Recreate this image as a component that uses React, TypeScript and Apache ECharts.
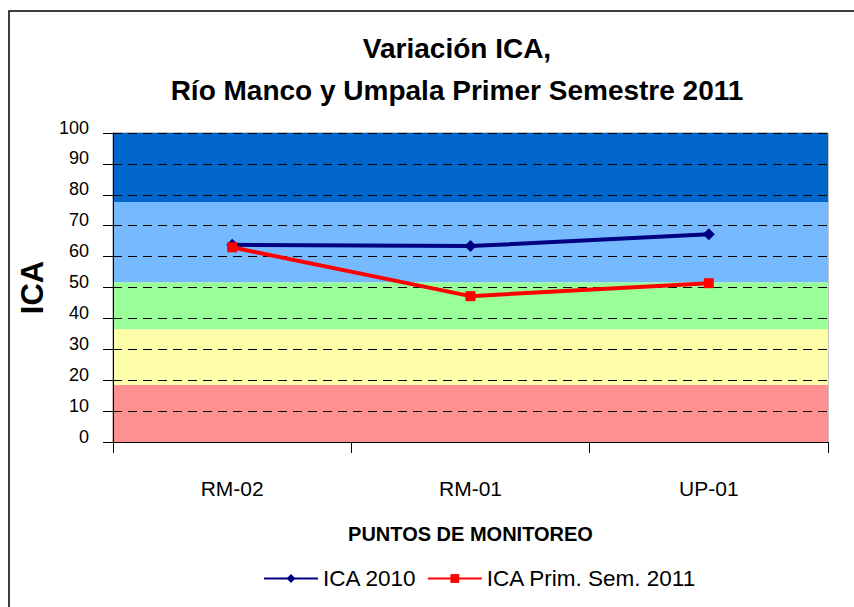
import React, { useEffect, useRef } from "react";
import * as echarts from "echarts";

const categories = ["RM-02", "RM-01", "UP-01"];
const ica2010 = [63.8, 63.4, 67.2];
const ica2011 = [63.0, 47.2, 51.4];
const bandBounds = [0, 18.5, 36.5, 51.7, 77.7, 100];
const bandColors = ["#FF9090", "#FFFFAA", "#99FF99", "#76B9FF", "#0066CC"];
const titleLines = ["Variación ICA,", "Río Manco y Umpala Primer Semestre 2011"];

const FONT = "'Liberation Sans', Arial, sans-serif";

export default function App() {
  const ref = useRef<HTMLDivElement>(null);
  useEffect(() => {
    if (!ref.current) return;
    const chart = echarts.init(ref.current, null, { renderer: "svg" });
    const bands = bandColors.map((c, i) => [
      { yAxis: bandBounds[i], itemStyle: { color: c, opacity: 1 } },
      { yAxis: bandBounds[i + 1] },
    ]);
    chart.setOption({
      animation: false,
      backgroundColor: "#fff",
      textStyle: { fontFamily: FONT },
      title: {
        text: titleLines.join("\n"),
        left: 452,
        top: 22,
        textAlign: "center",
        textStyle: {
          fontFamily: FONT,
          fontSize: 28,
          fontWeight: "bold",
          color: "#000",
          lineHeight: 42,
        },
      },
      graphic: [
        {
          type: "rect",
          shape: { x: 9, y: 11, width: 900, height: 700 },
          style: { fill: "none", stroke: "#000", lineWidth: 1.5 },
          z: 100,
        },
      ],
      legend: {
        bottom: 12,
        left: 258,
        itemWidth: 54,
        itemHeight: 11,
        itemGap: 10,
        textStyle: { fontFamily: FONT, fontSize: 22.5, color: "#000" },
        data: ["ICA 2010", "ICA Prim. Sem. 2011"],
      },
      grid: {
        left: 113,
        right: 26,
        top: 133,
        bottom: 165,
        show: true,
        borderColor: "#888",
        borderWidth: 1,
      },
      xAxis: {
        type: "category",
        data: categories,
        boundaryGap: true,
        z: 2,
        axisLine: { lineStyle: { color: "#000", width: 1 } },
        axisTick: { show: true, length: 11, lineStyle: { color: "#000" } },
        axisLabel: { fontSize: 21, color: "#000", margin: 36, fontFamily: FONT },
        name: "PUNTOS DE MONITOREO",
        nameLocation: "middle",
        nameGap: 82,
        nameTextStyle: { fontSize: 20, fontWeight: "bold", color: "#000", fontFamily: FONT },
      },
      yAxis: {
        type: "value",
        min: 0,
        max: 100,
        interval: 10,
        z: 2,
        axisLine: { show: true, lineStyle: { color: "#000", width: 1 } },
        axisTick: { show: true, length: 10, lineStyle: { color: "#000" } },
        axisLabel: {
          fontSize: 18,
          color: "#000",
          margin: 24,
          fontFamily: FONT,
          verticalAlign: "bottom",
          lineHeight: 11,
        },
        splitLine: { show: true, lineStyle: { color: "#000", type: [9, 6], width: 1.2 } },
        name: "ICA",
        nameLocation: "middle",
        nameGap: 58,
        nameRotate: 90,
        nameTextStyle: { fontSize: 31, fontWeight: "bold", color: "#000", fontFamily: FONT },
      },
      series: [
        {
          name: "bands",
          type: "line",
          data: [],
          z: 1,
          silent: true,
          markArea: { silent: true, data: bands },
        },
        {
          name: "ICA 2010",
          type: "line",
          data: ica2010,
          z: 3,
          color: "#000080",
          lineStyle: { color: "#000080", width: 4 },
          itemStyle: { color: "#000080" },
          symbol: "diamond",
          symbolSize: 12,
          showSymbol: true,
        },
        {
          name: "ICA Prim. Sem. 2011",
          type: "line",
          data: ica2011,
          z: 4,
          color: "#FF0000",
          lineStyle: { color: "#FF0000", width: 4 },
          itemStyle: { color: "#FF0000" },
          symbol: "rect",
          symbolSize: 10,
          showSymbol: true,
        },
      ],
    });
    return () => chart.dispose();
  }, []);
  return (
    <div
      ref={ref}
      style={{ position: "fixed", left: 0, top: 0, width: 854, height: 607 }}
    />
  );
}
